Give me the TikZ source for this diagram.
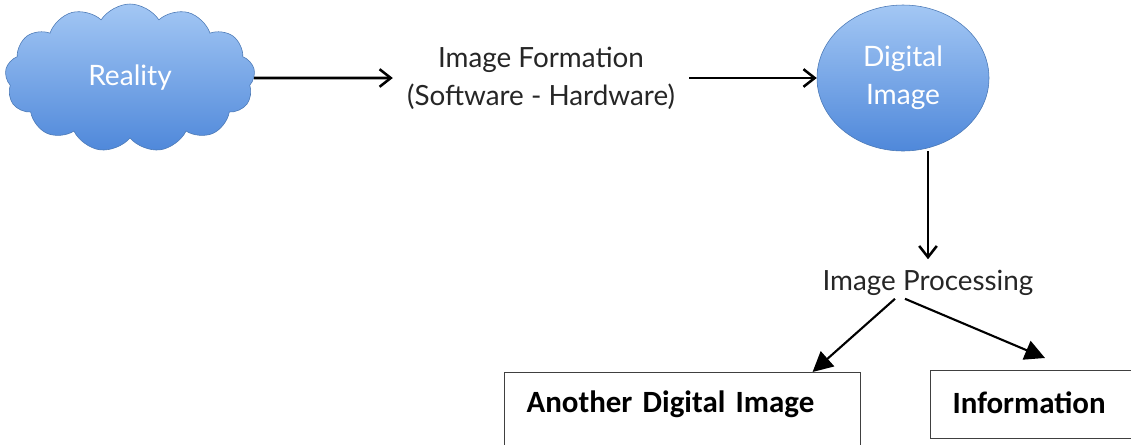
\documentclass[tikz,border=0pt]{standalone}
\usepackage{fontspec}
\setmainfont{Lato}
\newfontfamily\boxfont[WordSpace=0.5]{Carlito}
\usetikzlibrary{shapes.symbols,shapes.geometric,arrows.meta}
\definecolor{blobtop}{HTML}{A3C7F4}
\definecolor{blobbot}{HTML}{4F88DA}
\definecolor{blobline}{HTML}{4A78B5}
\begin{document}
\begin{tikzpicture}[
    blob/.style={draw=blobline, top color=blobtop, bottom color=blobbot, text=white, align=center, font=\fontsize{20}{27}\selectfont},
    plain/.style={align=center, text=black!85, font=\fontsize{19.8}{27}\selectfont},
    outbox/.style={rectangle, draw=black!75, line width=0.8pt, anchor=north west, inner xsep=0.55cm, inner ysep=0.2cm, align=left, font=\boxfont\bfseries\fontsize{22}{26}\selectfont},
    arrow/.style={-{Straight Barb[length=2.8mm,width=4.4mm]}, line width=1.8pt},
    bigarrow/.style={-{Triangle[length=5mm,width=5mm]}, line width=1.5pt}
]
\path[use as bounding box, clip] (0,0) rectangle (28.275,-11.1);

\node[blob, cloud, cloud puffs=13, cloud puff arc=115, aspect=1.7, minimum width=6.25cm, minimum height=3.7cm, inner sep=0pt] (reality) at (3.25,-1.95) {Reality};
\node[plain, inner xsep=0.35cm] (formation) at (13.525,-1.95) {Image Formation\\(Software - Hardware)};
\node[blob, ellipse, minimum width=4.3cm, minimum height=3.65cm, inner sep=0pt] (digital) at (22.575,-1.95) {Digital\\Image};
\node[plain, inner sep=2pt] (processing) at (23.2,-7.075) {Image Processing};
\node[outbox, text width=7.8cm, text height=0.8cm, text depth=1.3cm] (another) at (12.6,-9.3) {Another Digital Image};
\node[outbox, text width=4.5cm, text height=0.875cm, text depth=0.425cm] (info) at (23.25,-9.25) {Information};

\draw[arrow] (reality) -- (formation);
\draw[arrow] (formation) -- (digital);
\draw[arrow] (processing.north |- digital.south) -- ([yshift=0.2cm]processing.north);
\draw[bigarrow] ([xshift=-0.825cm]processing.south) -- ([xshift=3.25cm]another.north);
\draw[bigarrow] ([xshift=-0.575cm]processing.south) -- ([xshift=2.875cm,yshift=0.3cm]info.north west);
\end{tikzpicture}
\end{document}
